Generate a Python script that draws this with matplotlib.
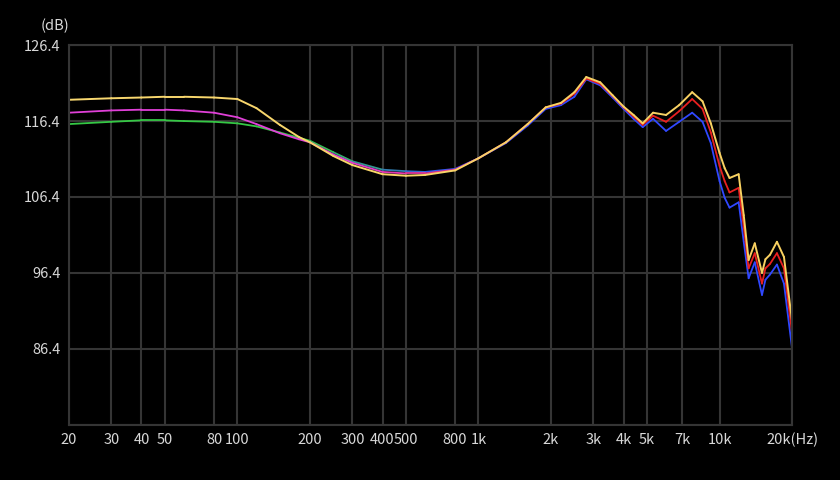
import numpy as np
import matplotlib
matplotlib.use("Agg")
import matplotlib.pyplot as plt
from matplotlib.collections import LineCollection
from matplotlib.colors import to_rgb

plt.rcParams['font.family'] = ['Noto Sans CJK SC', 'DejaVu Sans']

freqs = [20,30,40,50,60,80,100,120,150,180,200,250,300,400,500,600,800,1000,1300,1600,
         1900,2200,2500,2800,3200,3600,4000,4400,4800,5300,6000,6800,7700,8500,9200,10000,
         10500,11000,12000,12600,13200,14000,15000,15500,16200,17300,18500,20000]
yellow = [119.2,119.4,119.5,119.6,119.6,119.5,119.3,118.1,115.9,114.3,
          113.6,111.8,110.6,109.4,109.2,109.3,109.9,111.5,113.6,116.0,
          118.2,118.8,120.2,122.2,121.5,119.8,118.3,117.2,116.1,117.5,
          117.2,118.5,120.2,119.0,116.1,112.2,110.2,108.9,109.4,104.0,
          98.1,100.3,96.4,98.2,98.8,100.5,98.5,90.0]
mid = [117.5,117.8,117.9,117.9,117.8,117.5,116.9,116.0,114.8,114.0,
       113.6,112.0,110.9,109.7,109.5,109.5,110.0,111.5,113.6,116.0,
       118.2,118.7,120.0,122.0,121.3,119.7,118.2,117.0,115.9,117.1,
       116.3,117.7,119.3,118.0,114.9,110.5,108.5,107.0,107.6,102.5,
       97.0,99.0,95.0,97.0,97.6,99.0,97.0,88.5]
low = [116.0,116.3,116.5,116.5,116.4,116.3,116.1,115.7,114.9,114.2,
       113.8,112.3,111.1,110.0,109.8,109.7,110.1,111.5,113.5,115.8,
       118.0,118.5,119.6,121.9,121.1,119.5,118.0,116.7,115.6,116.7,
       115.1,116.3,117.5,116.3,113.5,108.5,106.3,105.0,105.7,100.5,
       95.7,97.8,93.5,95.5,96.2,97.5,95.0,86.4]

xticks = [20,30,40,50,80,100,200,300,400,500,800,1000,2000,3000,4000,5000,7000,10000,20000]
xlabels = ['20','30','40','50','80','100','200','300','400','500','800','1k','2k','3k','4k','5k','7k','10k','20k(Hz)']
yticks = [76.4,86.4,96.4,106.4,116.4,126.4]
ylabels = ['','86.4','96.4','106.4','116.4','126.4']

fig = plt.figure(figsize=(8.4,4.8), dpi=100, facecolor='black')
ax = fig.add_axes([0.082,0.115,0.861,0.791], facecolor='black')
ax.set_xscale('log')
ax.set_xlim(20,20000)
ax.set_ylim(76.4,126.4)
ax.set_xticks(xticks)
ax.set_xticklabels(xlabels)
ax.minorticks_off()
ax.set_yticks(yticks)
ax.set_yticklabels(ylabels)
gc = '#353535'
ax.grid(True, color=gc, lw=1.5)
for s in ax.spines.values():
    s.set_color(gc); s.set_linewidth(1.5)
ax.tick_params(length=0, colors='#d8d8d8', labelsize=10.5, pad=6)

def grad_line(f, v, c1, c2, f1, f2, lw=1.3):
    f = np.asarray(f, float); v = np.asarray(v, float)
    pts = np.column_stack([f, v]).reshape(-1,1,2)
    segs = np.concatenate([pts[:-1], pts[1:]], axis=1)
    fm = np.sqrt(f[:-1]*f[1:])
    t = np.clip((np.log10(fm)-np.log10(f1))/(np.log10(f2)-np.log10(f1)), 0, 1)
    a, b = np.array(to_rgb(c1)), np.array(to_rgb(c2))
    cols = a[None,:]*(1-t[:,None]) + b[None,:]*t[:,None]
    ax.add_collection(LineCollection(segs, colors=cols, linewidths=lw, capstyle='round', joinstyle='round'))

grad_line(freqs, low, '#35c845', '#3048ff', 200, 800)
grad_line(freqs, mid, '#e040d8', '#e82020', 300, 2000)
grad_line(freqs, yellow, '#f8d870', '#f8d060', 20, 20000, lw=1.4)

fig.text(0.082, 0.945, '(dB)', color='#d8d8d8', fontsize=10.5, ha='right', va='center')

fig.savefig('out.png', dpi=100, facecolor='black')
